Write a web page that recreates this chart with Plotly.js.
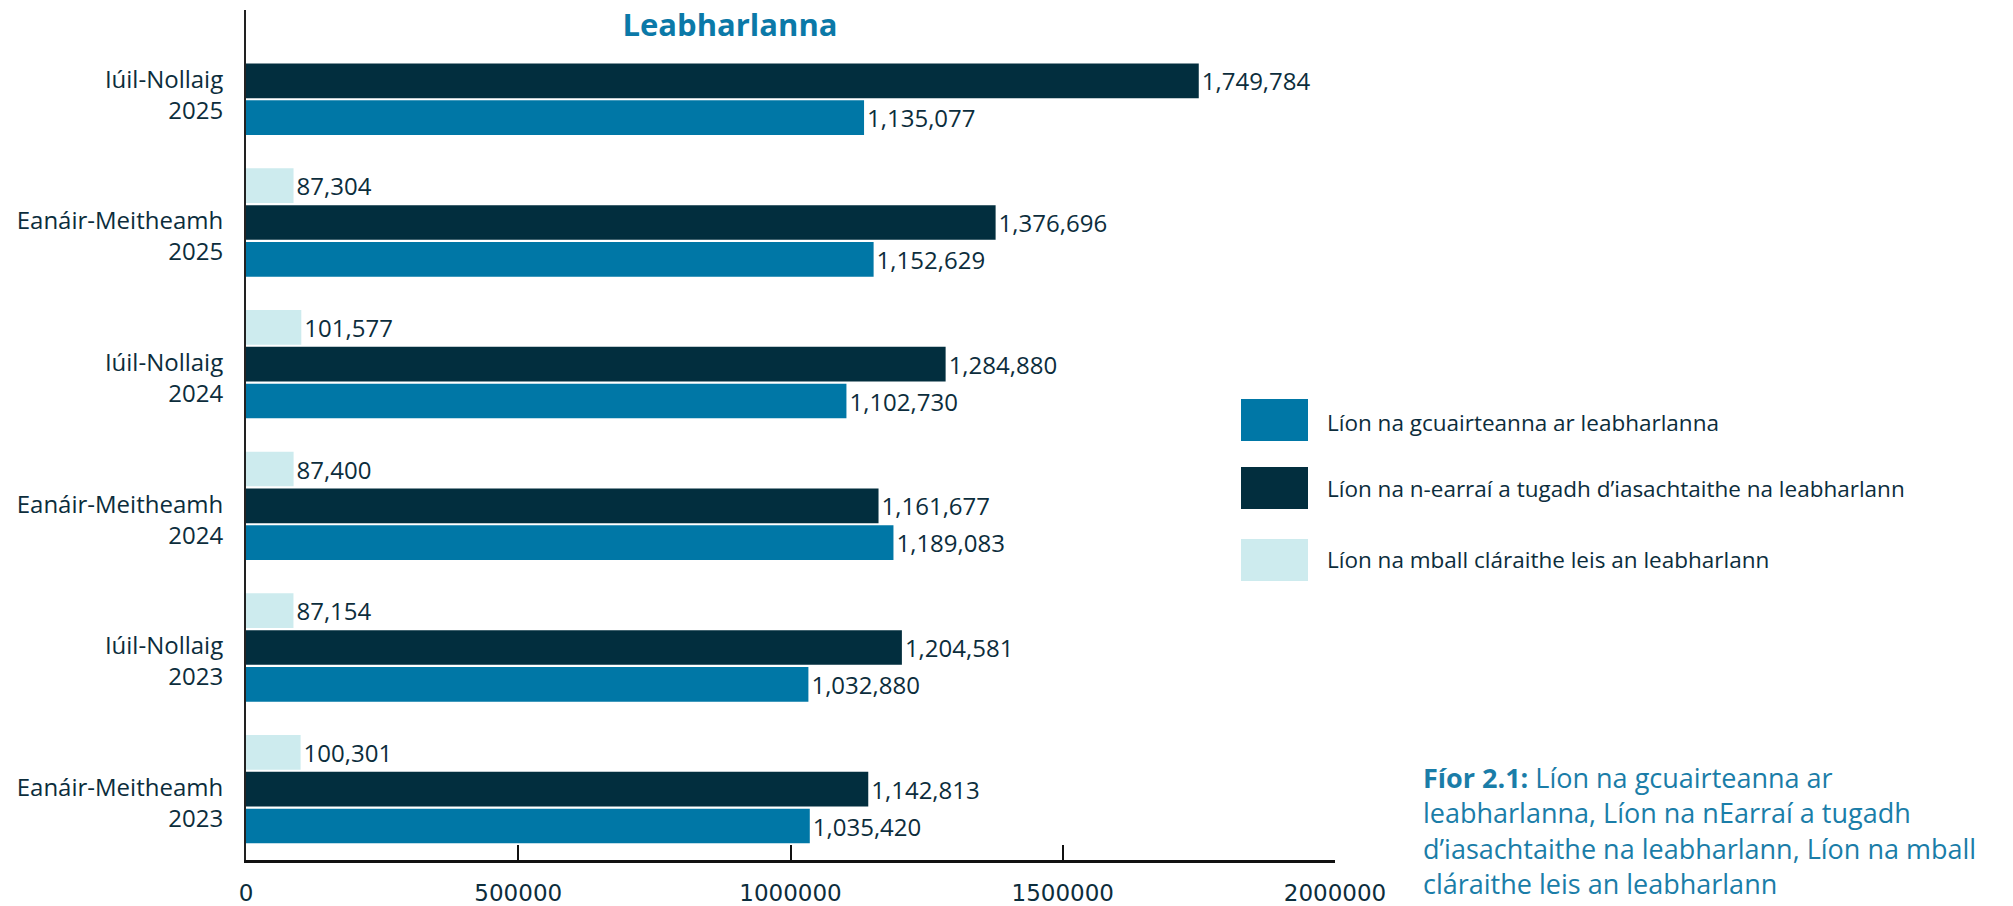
<!DOCTYPE html>
<html>
<head>
<meta charset="utf-8">
<script src="https://cdn.plot.ly/plotly-3.0.1.min.js"></script>
<style>
  html, body { margin: 0; padding: 0; background: #ffffff; }
  #chart { width: 2013px; height: 906px; }
</style>
</head>
<body>
<div id="chart"></div>
<script>
// ---- Data (bottom to top) ----
const categories = [
  'Eanáir-Meitheamh<br>2023',
  'Iúil-Nollaig<br>2023',
  'Eanáir-Meitheamh<br>2024',
  'Iúil-Nollaig<br>2024',
  'Eanáir-Meitheamh<br>2025',
  'Iúil-Nollaig<br>2025'
];
const visits  = [1035420, 1032880, 1189083, 1102730, 1152629, 1135077];
const loans   = [1142813, 1204581, 1161677, 1284880, 1376696, 1749784];
const members = [100301, 87154, 87400, 101577, 87304, null];

const seriesNames = [
  'Líon na gcuairteanna ar leabharlanna',
  'Líon na n-earraí a tugadh d’iasachtaithe na leabharlann',
  'Líon na mball cláraithe leis an leabharlann'
];
const seriesColors = ['#0077A6', '#022E3E', '#CDEBEE'];

const xTickVals = [0, 500000, 1000000, 1500000, 2000000];
const xTickText = ['0', '500000', '1000000', '1500000', '2000000'];

const chartTitle = 'Leabharlanna';
const captionBold = 'Fíor 2.1:';
const captionLines = [
  ' Líon na gcuairteanna ar',
  'leabharlanna, Líon na nEarraí a tugadh',
  'd’iasachtaithe na leabharlann, Líon na mball',
  'cláraithe leis an leabharlann'
];

// ---- Layout geometry (pixels) ----
const W = 2013, H = 906;
const plotL = 246, plotR = 1335, plotT = 10, plotB = 860;
const px2x = p => (p - plotL) / (plotR - plotL);
const px2y = p => (plotB - p) / (plotB - plotT);

const textColor = '#0C2D3C';
const baseFont = '"Open Sans", "Noto Sans", sans-serif';

const seriesValues = [visits, loans, members];
const traces = seriesValues.map((vals, i) => ({
  type: 'bar',
  orientation: 'h',
  name: seriesNames[i],
  y: categories,
  x: vals,
  marker: { color: seriesColors[i] },
  texttemplate: '%{x:,}',
  textposition: 'outside',
  constraintext: 'none',
  cliponaxis: false,
  textfont: { family: baseFont, size: 24, color: textColor },
  hoverinfo: 'x+name'
}));

// custom legend (large swatches)
const legendRows = [
  { top: 399, bottom: 441, textY: 422 },
  { top: 467, bottom: 509, textY: 489 },
  { top: 539, bottom: 581, textY: 560 }
];
const shapes = legendRows.map((r, i) => ({
  type: 'rect', xref: 'paper', yref: 'paper',
  x0: px2x(1241), x1: px2x(1308),
  y0: px2y(r.bottom), y1: px2y(r.top),
  fillcolor: seriesColors[i], line: { width: 0 }, layer: 'above'
}));
const annotations = legendRows.map((r, i) => ({
  xref: 'paper', yref: 'paper',
  x: px2x(1325), y: px2y(r.textY),
  xanchor: 'left', yanchor: 'middle',
  text: seriesNames[i], showarrow: false,
  font: { family: baseFont, size: 22.5, color: textColor }
}));

// caption lines
const captionColor = '#1A7DA8';
const capTops = [777, 812, 848, 883];
captionLines.forEach((line, i) => {
  annotations.push({
    xref: 'paper', yref: 'paper',
    x: px2x(1421), y: px2y(capTops[i]),
    xanchor: 'left', yanchor: 'middle',
    text: (i === 0 ? '<b>' + captionBold + '</b>' : '') + line,
    showarrow: false,
    font: { family: '"Open Sans", Lato, sans-serif', size: 27, color: captionColor }
  });
});

const layout = {
  width: W, height: H,
  margin: { l: plotL, r: W - plotR, t: plotT, b: H - plotB, pad: 0 },
  paper_bgcolor: '#ffffff',
  plot_bgcolor: '#ffffff',
  showlegend: false,
  barmode: 'group',
  bargap: 0.22,
  bargroupgap: 0.06,
  title: {
    text: '<b>' + chartTitle + '</b>',
    xref: 'container', yref: 'container',
    x: 730 / W, y: 1 - 25 / H,
    xanchor: 'center', yanchor: 'middle',
    font: { family: '"Open Sans", Lato, sans-serif', size: 31, color: '#0B79A8' }
  },
  xaxis: {
    range: [0, 2000000],
    tickvals: xTickVals,
    ticktext: xTickText,
    showgrid: false,
    zeroline: false,
    showline: true,
    linecolor: '#111111',
    linewidth: 3,
    ticks: 'inside',
    ticklen: 15,
    tickwidth: 2,
    tickcolor: '#111111',
    ticklabelstandoff: 10,
    tickfont: { family: '"DejaVu Sans", sans-serif', size: 23, color: textColor },
    fixedrange: true
  },
  yaxis: {
    type: 'category',
    showgrid: false,
    zeroline: false,
    showline: true,
    linecolor: '#222222',
    linewidth: 2,
    ticks: '',
    ticklabelstandoff: 16,
    ticklabelshift: 14,
    tickfont: { family: baseFont, size: 24, color: textColor },
    fixedrange: true
  },
  shapes: shapes,
  annotations: annotations
};

Plotly.newPlot('chart', traces, layout, { displayModeBar: false, staticPlot: true });
</script>
</body>
</html>
